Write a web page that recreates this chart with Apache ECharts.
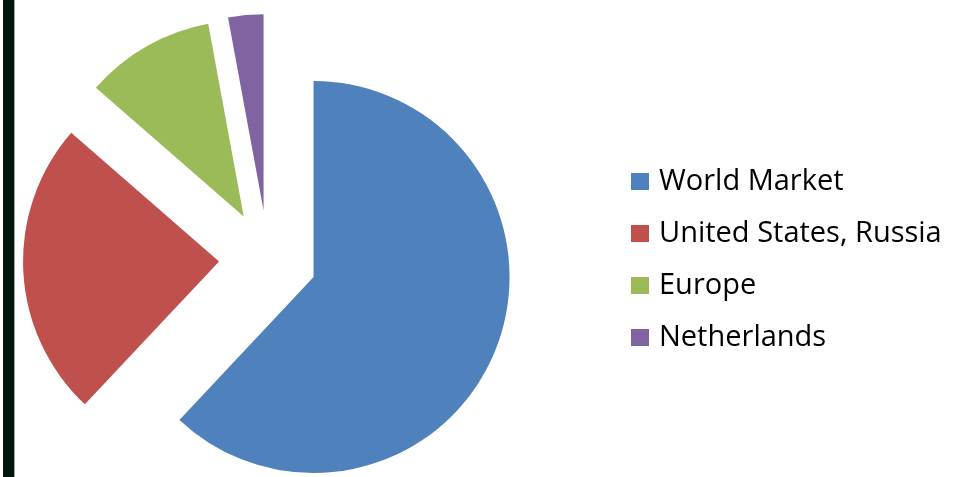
<!DOCTYPE html>
<html>
<head>
<meta charset="utf-8">
<script src="https://cdn.jsdelivr.net/npm/echarts@6/dist/echarts.min.js"></script>
<style>
html,body{margin:0;padding:0;background:#fff;}
#chart{width:962px;height:477px;}
</style>
</head>
<body>
<div id="chart"></div>
<script>
const categories = ["World Market", "United States, Russia", "Europe", "Netherlands"];
const values = [62.0, 24.4, 10.7, 2.9];
const colors = ["#4F81BD", "#C0504D", "#9BBB59", "#8064A2"];

const chart = echarts.init(document.getElementById('chart'), null, {renderer: 'canvas'});
chart.setOption({
  animation: false,
  backgroundColor: '#ffffff',
  color: colors,
  graphic: [
    {type: 'rect', shape: {x: 3, y: 0, width: 11, height: 477}, style: {fill: '#03160c'}},
    {type: 'rect', shape: {x: 14, y: 0, width: 1, height: 477}, style: {fill: '#9aa39d'}}
  ],
  legend: {
    orient: 'vertical',
    left: 631,
    top: 167,
    padding: 0,
    icon: 'rect',
    itemWidth: 18,
    itemHeight: 17,
    itemGap: 23,
    selectedMode: false,
    textStyle: {
      fontFamily: 'Open Sans',
      fontSize: 29,
      lineHeight: 29,
      color: '#000000',
      padding: [0, 0, 0, 5]
    },
    data: categories
  },
  series: [{
    type: 'pie',
    center: [268, 259],
    radius: [0, 196],
    startAngle: 90,
    clockwise: true,
    selectedMode: 'multiple',
    selectedOffset: 49,
    label: {show: false},
    labelLine: {show: false},
    emphasis: {disabled: true},
    itemStyle: {borderWidth: 0},
    data: categories.map((name, i) => ({name: name, value: values[i], selected: true}))
  }]
});
</script>
</body>
</html>
